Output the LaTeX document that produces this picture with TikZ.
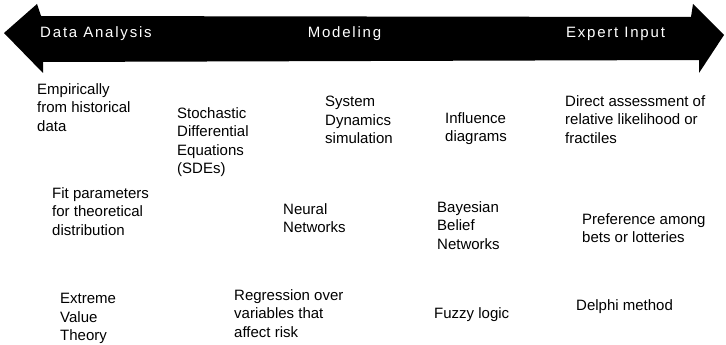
\documentclass[tikz,border=0pt]{standalone}
\usepackage{fontspec}
\setmainfont{Liberation Sans}
\newfontfamily\bandfont{Liberation Sans}[LetterSpace=12]
\usepackage{tikz}

\begin{document}
\begin{tikzpicture}[
      x=1pt, y=-1pt,
      item/.style={anchor=north west, inner sep=0pt, align=left,
                   font=\fontsize{15}{18.5}\selectfont},
      band/.style={anchor=center, inner sep=0pt, text=white,
                   font=\bandfont\fontsize{15}{18}\selectfont}
    ]
    \useasboundingbox (0,0) rectangle (726,345);

    %% ---- double-headed band ----
    \fill[black] (4,33) -- (37,4) -- (41,16) -- (691,17) -- (693,4) -- (724,35)
                 -- (699,73) -- (699,60) -- (43,62) -- (43,73) -- cycle;

    \node[band] at (96,34)    (data)   {Data Analysis};
    \node[band] at (344.5,34) (model)  {Modeling};
    \node[band] at (615.5,34) (expert) {Expert Input};

    %% ---- data analysis side ----
    \node[item] at (37,83)  (empir)  {Empirically\\from historical\\data};
    \node[item] at (52,187) (fit)    {Fit parameters\\for theoretical\\distribution};
    \node[item] at (60,293) (evt)    {Extreme\\Value\\Theory};

    %% ---- modeling ----
    \node[item] at (177,107) (sde)    {Stochastic\\Differential\\Equations\\(SDEs)};
    \node[item] at (325,96)  (sysdyn) {System\\Dynamics\\simulation};
    \node[item] at (283,203) (neural) {Neural\\Networks};
    \node[item] at (234,289) (regr)   {Regression over\\variables that\\affect risk};
    \node[item] at (445,112) (infl)   {Influence\\diagrams};
    \node[item] at (437,201) (bayes)  {Bayesian\\Belief\\Networks};
    \node[item] at (434,307) (fuzzy)  {Fuzzy logic};

    %% ---- expert input side ----
    \node[item] at (565,95)  (direct) {Direct assessment of\\relative likelihood or\\fractiles};
    \node[item] at (582,213) (pref)   {Preference among\\bets or lotteries};
    \node[item] at (576,299) (delphi) {Delphi method};

  \end{tikzpicture}
\end{document}
